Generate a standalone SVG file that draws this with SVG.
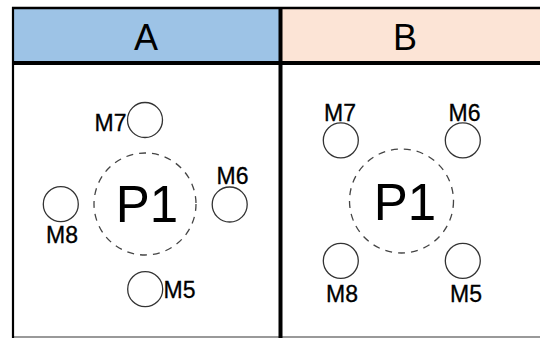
<svg xmlns="http://www.w3.org/2000/svg" width="540" height="338" viewBox="0 0 540 338">
<style>
.hdr{font-family:"Liberation Sans",Arial,sans-serif;font-size:36px;fill:#000;text-anchor:middle}
.lbl{font-family:"Liberation Sans",Arial,sans-serif;font-size:23px;fill:#000;stroke:#000;stroke-width:0.3}
.big{font-family:"Liberation Sans",Arial,sans-serif;font-size:51px;fill:#000;text-anchor:middle}
.m{fill:#fff;stroke:#333;stroke-width:1.3}
.p{fill:none;stroke:#444;stroke-width:1.3;stroke-dasharray:7 6}
</style>
<rect x="0" y="0" width="540" height="338" fill="#fff"/>
<g id="frame">
<rect x="13" y="8" width="267" height="55" fill="#9DC3E6"/>
<rect x="280" y="8" width="262" height="55" fill="#FCE4D6"/>
<line x1="13" y1="337" x2="540" y2="337" stroke="#777" stroke-width="1.5"/>
<line x1="12" y1="8" x2="542" y2="8" stroke="#000" stroke-width="2.5"/>
<line x1="13" y1="7" x2="13" y2="338" stroke="#000" stroke-width="2.2"/>
<line x1="12" y1="63" x2="542" y2="63" stroke="#000" stroke-width="4"/>
<line x1="280.5" y1="8" x2="280.5" y2="338" stroke="#000" stroke-width="4"/>
<text class="hdr" x="146" y="50">A</text>
<text class="hdr" x="405" y="50">B</text>
</g>
<g id="connectors"/>
<g id="A-P1"><circle class="p" cx="145" cy="204" r="51"/><text class="big" x="147" y="222">P1</text></g>
<g id="A-M7"><circle class="m" cx="145" cy="120" r="17.5"/><text class="lbl" x="126.5" y="131" text-anchor="end">M7</text></g>
<g id="A-M6"><circle class="m" cx="229.7" cy="204.5" r="17.5"/><text class="lbl" x="232.5" y="184" text-anchor="middle">M6</text></g>
<g id="A-M8"><circle class="m" cx="60.8" cy="204.2" r="17.5"/><text class="lbl" x="62" y="243" text-anchor="middle">M8</text></g>
<g id="A-M5"><circle class="m" cx="145.2" cy="289.2" r="17.5"/><text class="lbl" x="163.5" y="298">M5</text></g>
<g id="B-P1"><circle class="p" cx="401.5" cy="201" r="52"/><text class="big" x="405" y="220">P1</text></g>
<g id="B-M7"><circle class="m" cx="340.8" cy="140.3" r="17.5"/><text class="lbl" x="340" y="120.5" text-anchor="middle">M7</text></g>
<g id="B-M6"><circle class="m" cx="462.8" cy="140.3" r="17.5"/><text class="lbl" x="464.5" y="120.5" text-anchor="middle">M6</text></g>
<g id="B-M8"><circle class="m" cx="340.8" cy="260.8" r="17.5"/><text class="lbl" x="342" y="301.5" text-anchor="middle">M8</text></g>
<g id="B-M5"><circle class="m" cx="462.8" cy="260.8" r="17.5"/><text class="lbl" x="466" y="301.5" text-anchor="middle">M5</text></g>
</svg>
